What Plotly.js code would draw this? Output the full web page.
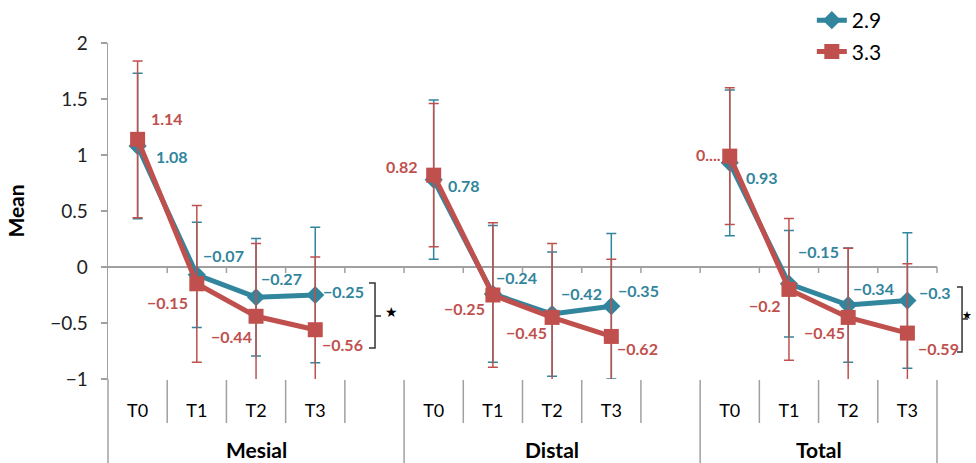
<!DOCTYPE html>
<html><head><meta charset="utf-8">
<script src="https://cdn.plot.ly/plotly-3.0.1.min.js"></script>
<style>html,body{margin:0;padding:0;background:#fff}#chart{width:976px;height:463px}</style>
</head><body><div id="chart"></div>
<script>
// ---- data ----
const groups = ["Mesial", "Distal", "Total"];
const timepoints = ["T0", "T1", "T2", "T3"];
const seriesNames = ["2.9", "3.3"];
const mean29 = [1.08, -0.07, -0.27, -0.25, 0.78, -0.24, -0.42, -0.35, 0.93, -0.15, -0.34, -0.30];
const mean33 = [1.14, -0.15, -0.44, -0.56, 0.82, -0.25, -0.45, -0.62, 0.99, -0.20, -0.45, -0.59];
const sd29 = [0.65, 0.47, 0.525, 0.605, 0.71, 0.61, 0.555, 0.65, 0.65, 0.475, 0.51, 0.605];
const sd33 = [0.70, 0.70, 0.65, 0.65, 0.64, 0.646, 0.66, 0.69, 0.61, 0.633, 0.617, 0.62];
const labelOverride33 = {8: "0...."};

// ---- styles ----
const TEAL = "#31859C", RED = "#C0504D";
const FONT = "Lato, 'Open Sans', sans-serif";
// label offsets [dx, dy] in px (screen, dy down)
const off29 = [[34,10],[27,-19],[25,-19],[28,-4],[30,6],[24,-16],[29,-21],[27,-16],[32,15],[30,-32],[25,-17],[28,-8]];
const off33 = [[29,-21],[-29,19],[-25,20],[27,15],[-32,-9],[-28,13],[-26,15],[26,12],[-21,-2],[-24,16],[-24,15],[31,15]];

const slotsPerGroup = timepoints.length + 1;
const nSlots = groups.length * slotsPerGroup - 1;
const xr = [-0.5, nSlots - 0.5];
const toPaperX = v => (v - xr[0]) / (xr[1] - xr[0]);

function pos(i) { const g = Math.floor(i / timepoints.length), t = i % timepoints.length; return g * slotsPerGroup + t; }
function fmt(v) { return (v < 0 ? "\u2212" : "") + String(Math.abs(v)); }
function series(vals) {
  const x = [], y = [];
  for (let s = 0; s < nSlots; s++) { x.push(s); y.push(null); }
  vals.forEach((v, i) => { y[pos(i)] = v; });
  return {x, y};
}
function errs(vals) {
  const e = new Array(nSlots).fill(null);
  vals.forEach((v, i) => { e[pos(i)] = v; });
  return e;
}

const s29 = series(mean29), s33 = series(mean33);
const traces = [
  {x: s29.x, y: s29.y, name: seriesNames[0], legendgroup: "a", type: "scatter", mode: "lines+markers", connectgaps: false,
   line: {color: TEAL, width: 5}, marker: {symbol: "diamond", size: 14, color: TEAL},
   error_y: {type: "data", array: errs(sd29), visible: true, color: TEAL, thickness: 1.5, width: 5}},
  {x: s33.x, y: s33.y, name: seriesNames[1], legendgroup: "b", type: "scatter", mode: "lines+markers", connectgaps: false,
   line: {color: RED, width: 5}, marker: {symbol: "square", size: 15, color: RED},
   error_y: {type: "data", array: errs(sd33), visible: true, color: RED, thickness: 1.5, width: 5}}
];

const annotations = [];
function addLabels(vals, offs, color, override) {
  vals.forEach((v, i) => {
    annotations.push({x: pos(i), y: v, xref: "x", yref: "y", showarrow: false,
      text: (override && override[i]) ? override[i] : fmt(v),
      xshift: offs[i][0], yshift: -offs[i][1],
      font: {family: FONT, size: 16, color: color, weight: "bold"}});
  });
}
addLabels(mean29, off29, TEAL);
addLabels(mean33, off33, RED, labelOverride33);

// group labels
groups.forEach((g, gi) => {
  const first = gi * slotsPerGroup, last = first + timepoints.length - 1;
  const center = gi < groups.length - 1 ? (first + last + 1) / 2 : (first + last) / 2;
  annotations.push({x: center, y: -0.211, xref: "x", yref: "paper", showarrow: false, text: g,
    font: {family: FONT, size: 21, color: "#000", weight: "bold"}, yanchor: "middle"});
});

// significance stars
annotations.push({x: 0.3414, y: 0.1875, xref: "paper", yref: "paper", showarrow: false, text: "\u2605", yshift: -6,
  font: {family: "DejaVu Sans", size: 14, color: "#000"}});
annotations.push({x: 1.0445, y: 0.1786, xref: "paper", yref: "paper", showarrow: false, text: "\u2605", yshift: -5,
  font: {family: "DejaVu Sans", size: 11, color: "#000"}});

const shapes = [];
const GRAY = "#a0a0a0";
// y axis extension downwards
shapes.push({type: "line", xref: "paper", yref: "paper", x0: 0, x1: 0, y0: -0.25, y1: 0, line: {color: GRAY, width: 1.5}});
for (let b = 0; b < nSlots; b++) {
  const xb = toPaperX(b + 0.5);
  const isLong = (b % slotsPerGroup === slotsPerGroup - 1) || b === nSlots - 1;
  shapes.push({type: "line", xref: "paper", yref: "paper", x0: xb, x1: xb, y0: -0.003,
    y1: isLong ? -0.25 : -0.131, line: {color: GRAY, width: 1.5}});
  shapes.push({type: "line", xref: "paper", yref: "y", ysizemode: "pixel", yanchor: 0,
    x0: xb, x1: xb, y0: 0, y1: -6, line: {color: GRAY, width: 1.5}});
}
// brackets
function bracket(xl, xv, xm, yt, yb, ym) {
  shapes.push({type: "path", xref: "paper", yref: "paper",
    path: `M${xl},${yt} L${xv},${yt} L${xv},${yb} L${xl},${yb}`, line: {color: "#333", width: 1.5}});
  shapes.push({type: "line", xref: "paper", yref: "paper", x0: xv, x1: xm, y0: ym, y1: ym, line: {color: "#333", width: 1.5}});
}
bracket(0.3148, 0.3221, 0.3293, 0.2857, 0.0923, 0.1875);
bracket(1.0241, 1.0302, 1.0374, 0.2738, 0.0804, 0.1786);

const tickvals = [], ticktext = [];
groups.forEach((g, gi) => timepoints.forEach((t, ti) => { tickvals.push(gi * slotsPerGroup + ti); ticktext.push(t); }));

const layout = {
  width: 976, height: 463,
  margin: {l: 108, r: 39, t: 43, b: 84, autoexpand: false},
  paper_bgcolor: "#fff", plot_bgcolor: "#fff",
  showlegend: true,
  legend: {x: 0.849, y: 1.128, xanchor: "left", yanchor: "top",
    font: {family: FONT, size: 21, color: "#000"}, bgcolor: "rgba(0,0,0,0)", tracegroupgap: 1},
  xaxis: {range: xr, showgrid: false, zeroline: false, showline: false, ticks: "", automargin: false,
    tickvals: tickvals, ticktext: ticktext, ticklabelstandoff: 19,
    tickfont: {family: FONT, size: 18, color: "#000"}, fixedrange: true},
  yaxis: {range: [-1, 2], dtick: 0.5, showgrid: false, zeroline: true, zerolinecolor: GRAY, zerolinewidth: 1.5,
    showline: true, linecolor: GRAY, linewidth: 1.5, ticks: "outside", ticklen: 6, tickcolor: GRAY, tickwidth: 1.5,
    ticklabelstandoff: 9, automargin: false,
    tickfont: {family: FONT, size: 19, color: "#222"},
    title: {text: "Mean", standoff: 20, font: {family: FONT, size: 21, color: "#000", weight: "bold"}}, fixedrange: true},
  annotations: annotations,
  shapes: shapes
};

Plotly.newPlot("chart", traces, layout, {displayModeBar: false, staticPlot: true});
</script>
</body></html>
